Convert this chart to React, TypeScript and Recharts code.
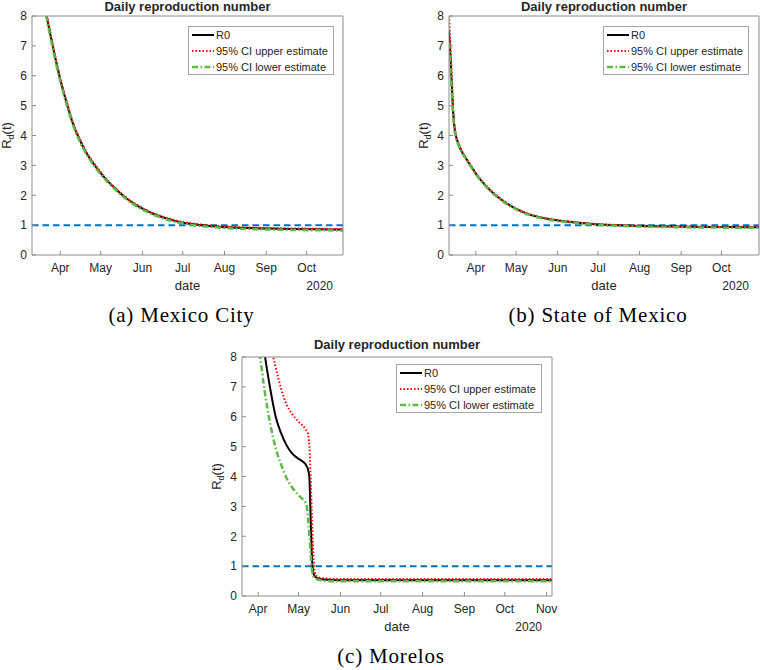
import { LineChart, Line, XAxis, YAxis, ReferenceLine, Legend, Label } from 'recharts'

const monthNames: Record<number, string> = {
  91: 'Apr', 121: 'May', 152: 'Jun', 182: 'Jul', 213: 'Aug', 244: 'Sep', 274: 'Oct', 305: 'Nov',
}
const monthTicks = [91, 121, 152, 182, 213, 244, 274]
const monthTicksMorelos = [91, 121, 152, 182, 213, 244, 274, 305]
const yTicks = [0, 1, 2, 3, 4, 5, 6, 7, 8]
const seriesNames = ['R0', '95% CI upper estimate', '95% CI lower estimate']

// day of year 2020 (Jan 1 = 0)
const cdmxDays = [72, 76, 80, 84, 88, 92, 96, 100, 105, 110, 115, 120, 125, 130, 140, 150, 160, 170, 180, 190, 200, 215, 230, 245, 260, 275, 290, 301]
const cdmxR0 = [10.6, 9.2, 8.2, 7.3, 6.45, 5.7, 5.05, 4.45, 3.9, 3.45, 3.1, 2.8, 2.53, 2.3, 1.9, 1.6, 1.38, 1.22, 1.1, 1.03, 0.98, 0.93, 0.9, 0.885, 0.87, 0.862, 0.855, 0.85]
const cdmxUpper = [10.7, 9.3, 8.28, 7.37, 6.51, 5.75, 5.1, 4.49, 3.94, 3.48, 3.13, 2.83, 2.55, 2.32, 1.92, 1.62, 1.4, 1.24, 1.12, 1.05, 1.0, 0.95, 0.92, 0.905, 0.89, 0.882, 0.875, 0.87]
const cdmxLower = [10.5, 9.1, 8.12, 7.22, 6.38, 5.64, 4.99, 4.4, 3.85, 3.41, 3.06, 2.76, 2.5, 2.27, 1.87, 1.57, 1.35, 1.19, 1.07, 1.0, 0.95, 0.9, 0.87, 0.855, 0.84, 0.832, 0.825, 0.82]

const edomexDays = [71, 72, 73, 74, 75, 76, 78, 80, 83, 87, 92, 100, 110, 120, 130, 142, 155, 167, 180, 200, 220, 240, 260, 280, 302]
const edomexR0 = [7.5, 6.7, 5.8, 4.85, 4.3, 4.02, 3.72, 3.5, 3.28, 3.0, 2.66, 2.24, 1.85, 1.57, 1.37, 1.23, 1.14, 1.08, 1.03, 0.99, 0.965, 0.95, 0.94, 0.935, 0.93]
const edomexUpper = [8.0, 7.1, 6.1, 5.0, 4.4, 4.08, 3.76, 3.53, 3.3, 3.02, 2.68, 2.26, 1.87, 1.58, 1.38, 1.24, 1.15, 1.09, 1.04, 1.0, 0.975, 0.96, 0.95, 0.945, 0.94]
const edomexLower = [7.1, 6.3, 5.5, 4.7, 4.2, 3.96, 3.68, 3.47, 3.26, 2.98, 2.64, 2.22, 1.83, 1.55, 1.35, 1.21, 1.12, 1.06, 1.01, 0.97, 0.945, 0.93, 0.92, 0.915, 0.91]

const morelosDays = [88, 92, 96, 100, 104, 108, 112, 116, 120, 124, 126, 127, 128, 129, 130, 131, 132, 133, 134, 136, 140, 150, 180, 220, 260, 309]
const morelosR0 = [11.5, 9.6, 8.05, 6.93, 6.0, 5.45, 5.05, 4.78, 4.62, 4.5, 4.42, 4.34, 4.24, 3.95, 2.5, 1.2, 0.76, 0.66, 0.62, 0.58, 0.55, 0.53, 0.53, 0.53, 0.53, 0.53]
const morelosUpper = [12.5, 11.0, 9.6, 8.5, 7.65, 6.95, 6.42, 6.1, 5.88, 5.7, 5.6, 5.52, 5.42, 5.0, 3.9, 2.5, 1.37, 0.8, 0.68, 0.62, 0.59, 0.57, 0.57, 0.57, 0.57, 0.57]
const morelosLower = [9.8, 8.2, 6.8, 5.75, 4.95, 4.4, 3.95, 3.65, 3.42, 3.24, 3.14, 3.02, 2.6, 2.05, 1.35, 0.85, 0.66, 0.6, 0.57, 0.54, 0.51, 0.49, 0.49, 0.49, 0.49, 0.49]

const lineStyles = [
  { color: '#000000', dash: undefined as string | undefined, width: 2 },
  { color: '#FF0000', dash: '1.5 2', width: 2 },
  { color: '#5FBA45', dash: '6 2.5 1.5 2.5', width: 2.5 },
]

const SANS = '"Liberation Sans", Arial, Helvetica, sans-serif'
const SERIF = '"Liberation Serif", "Times New Roman", serif'
const AXIS_GREY = '#8c8c8c'
const TEXT = '#262626'

type PanelProps = {
  left: number
  top: number
  width: number
  height: number
  plot: { left: number; top: number; right: number; bottom: number } // plot box inside the panel
  domain: [number, number]
  ticks: number[]
  days: number[]
  values: number[][]
  caption: string
  titleGap: number
  legendPos: { left: number; top: number }
}

function LegendBox() {
  return (
    <div
      style={{
        width: 146,
        height: 49,
        boxSizing: 'border-box',
        border: '1px solid #a6a6a6',
        background: '#fff',
        fontFamily: SANS,
        fontSize: 11,
        color: TEXT,
      }}
    >
      {seriesNames.map((name, i) => (
        <div key={name} style={{ display: 'flex', alignItems: 'center', height: 16 }}>
          <svg width={27} height={16} style={{ flex: 'none' }}>
            <line
              x1={3}
              x2={25}
              y1={8}
              y2={8}
              stroke={lineStyles[i].color}
              strokeWidth={lineStyles[i].width}
              strokeDasharray={lineStyles[i].dash}
            />
          </svg>
          <span style={{ whiteSpace: 'nowrap' }}>{name}</span>
        </div>
      ))}
    </div>
  )
}

const X_AXIS_H = 30
const Y_AXIS_W = 30

function Panel({ left, top, width, height, plot, domain, ticks, days, values, caption, titleGap, legendPos }: PanelProps) {
  const margin = {
    top: plot.top - 1,
    left: plot.left - Y_AXIS_W,
    right: width - plot.right - 1,
    bottom: height - plot.bottom - X_AXIS_H,
  }
  const axisProps = {
    axisLine: { stroke: AXIS_GREY },
    tickLine: { stroke: AXIS_GREY },
    tickSize: -4,
    allowDataOverflow: true,
    interval: 0 as const,
  }
  return (
    <div style={{ position: 'absolute', left, top }}>
      <LineChart width={width} height={height} margin={margin}>
        <XAxis
          type="number"
          dataKey="day"
          domain={domain}
          ticks={ticks}
          height={X_AXIS_H}
          tickMargin={12}
          tickFormatter={(d: number) => monthNames[d] ?? ''}
          tick={{ fontSize: 12, fill: TEXT, fontFamily: SANS }}
          {...axisProps}
        >
          <Label
            content={({ viewBox }: any) => {
              const { x, y, width: w } = viewBox
              return (
                <g>
                  <text x={x + w / 2} y={y + 35} textAnchor="middle" fontSize={13} fill={TEXT} fontFamily={SANS}>
                    date
                  </text>
                  <text x={x + w - 10} y={y + 35} textAnchor="end" fontSize={12} fill={TEXT} fontFamily={SANS}>
                    2020
                  </text>
                  <text
                    x={x + w / 2 - 6}
                    y={y + 67}
                    textAnchor="middle"
                    fontSize={21}
                    letterSpacing={0.8}
                    fill="#000"
                    fontFamily={SERIF}
                  >
                    {caption}
                  </text>
                </g>
              )
            }}
          />
        </XAxis>
        <XAxis
          xAxisId="top"
          orientation="top"
          type="number"
          domain={domain}
          ticks={ticks}
          height={1}
          tick={false}
          {...axisProps}
        >
          <Label
            content={({ viewBox }: any) => {
              const { x, y, width: w, height: h } = viewBox
              return (
                <text
                  x={x + w / 2}
                  y={y + h - titleGap}
                  textAnchor="middle"
                  fontSize={13}
                  fontWeight="bold"
                  fill={TEXT}
                  fontFamily={SANS}
                >
                  Daily reproduction number
                </text>
              )
            }}
          />
        </XAxis>
        <YAxis
          type="number"
          domain={[0, 8]}
          ticks={yTicks}
          width={Y_AXIS_W}
          tickMargin={9}
          tick={{ fontSize: 12, fill: TEXT, fontFamily: SANS }}
          {...axisProps}
        >
          <Label
            content={({ viewBox }: any) => {
              const { x, y, width: w, height: h } = viewBox
              const cx = x + w - 25
              const cy = y + h / 2
              return (
                <text
                  transform={`translate(${cx},${cy}) rotate(-90)`}
                  textAnchor="middle"
                  dy={4}
                  fontSize={13}
                  fill={TEXT}
                  fontFamily={SANS}
                >
                  R
                  <tspan dy={3} fontSize={9}>d</tspan>
                  <tspan dy={-3}>(t)</tspan>
                </text>
              )
            }}
          />
        </YAxis>
        <YAxis
          yAxisId="right"
          orientation="right"
          type="number"
          domain={[0, 8]}
          ticks={yTicks}
          width={1}
          tick={false}
          {...axisProps}
        />
        <ReferenceLine y={1} stroke="#0072BD" strokeWidth={2} strokeDasharray="6.5 4" />
        {values.map((vals, i) => (
          <Line
            key={seriesNames[i]}
            name={seriesNames[i]}
            data={days.map((d, j) => ({ day: d, value: vals[j] }))}
            dataKey="value"
            type="monotone"
            stroke={lineStyles[i].color}
            strokeWidth={lineStyles[i].width}
            strokeDasharray={lineStyles[i].dash}
            dot={false}
            activeDot={false}
            isAnimationActive={false}
          />
        ))}
        <Legend
          layout="horizontal"
          verticalAlign="middle"
          align="center"
          wrapperStyle={{ left: legendPos.left, top: legendPos.top, width: 146, height: 49 }}
          content={() => <LegendBox />}
        />
      </LineChart>
    </div>
  )
}

export default function App() {
  return (
    <div style={{ position: 'absolute', left: 0, top: 0, width: 760, height: 670, background: '#fff' }}>
      <Panel
        left={0}
        top={0}
        width={360}
        height={330}
        plot={{ left: 32, top: 16, right: 343, bottom: 255 }}
        domain={[70, 301]}
        ticks={monthTicks}
        days={cdmxDays}
        values={[cdmxR0, cdmxUpper, cdmxLower]}
        caption="(a) Mexico City"
        titleGap={5.5}
        legendPos={{ left: 188, top: 26 }}
      />
      <Panel
        left={380}
        top={0}
        width={380}
        height={330}
        plot={{ left: 69, top: 16, right: 379, bottom: 255 }}
        domain={[71, 302]}
        ticks={monthTicks}
        days={edomexDays}
        values={[edomexR0, edomexUpper, edomexLower]}
        caption="(b) State of Mexico"
        titleGap={5.5}
        legendPos={{ left: 223, top: 26 }}
      />
      <Panel
        left={190}
        top={330}
        width={380}
        height={340}
        plot={{ left: 52, top: 27, right: 362, bottom: 266 }}
        domain={[79, 309]}
        ticks={monthTicksMorelos}
        days={morelosDays}
        values={[morelosR0, morelosUpper, morelosLower]}
        caption="(c) Morelos"
        titleGap={8}
        legendPos={{ left: 206, top: 34 }}
      />
    </div>
  )
}
